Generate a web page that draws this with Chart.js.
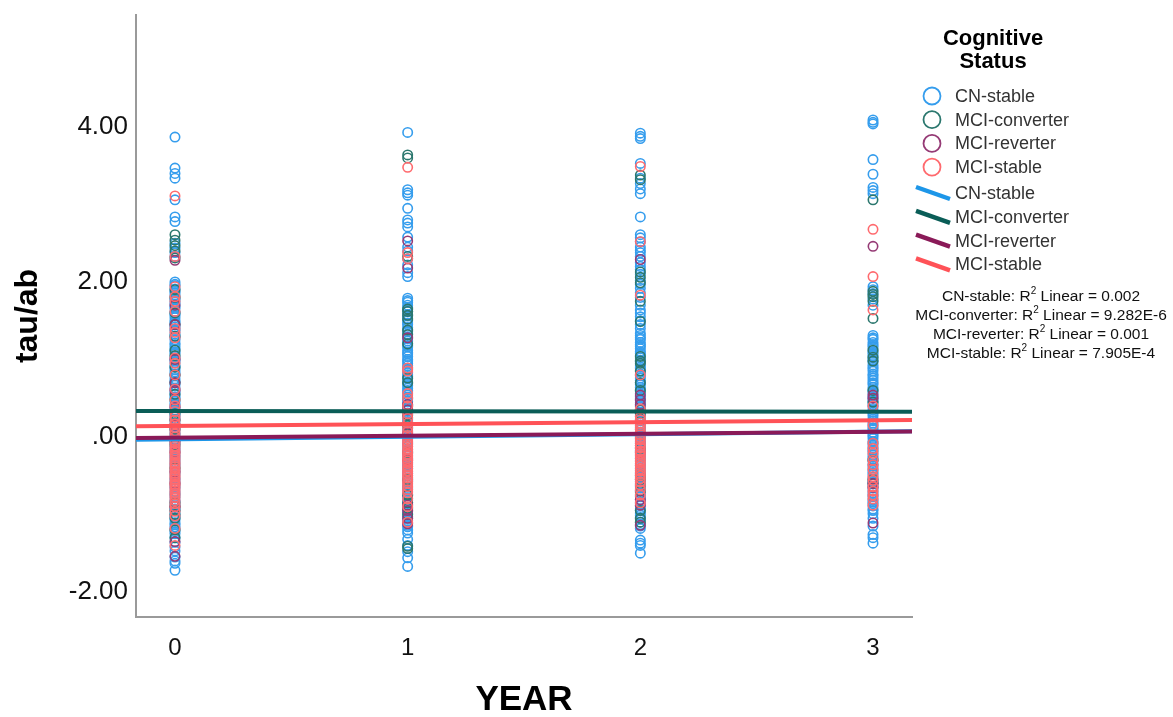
<!DOCTYPE html>
<html>
<head>
<meta charset="utf-8">
<title>tau/ab by YEAR</title>
<script src="https://cdn.jsdelivr.net/npm/chart.js@4/dist/chart.umd.min.js"></script>
<style>
  html, body { margin: 0; padding: 0; background: #fff; }
  #wrap { width: 1173px; height: 717px; }
</style>
</head>
<body>
<div id="wrap"><canvas id="mychart" width="1173" height="717"></canvas></div>
<script>
// values, one list per year (0..3)
const years = [0, 1, 2, 3]
const groups = ['CN-stable', 'MCI-converter', 'MCI-reverter', 'MCI-stable']

const cnStable = [
  [3.87, 3.47, 3.40, 3.34, 3.06, 2.84, 2.78, 2.50, 2.44, 2.38, 2.33,
   2.00, 1.97, 1.95, 1.91, 1.88, 1.86, 1.83, 1.79, 1.77, 1.74, 1.71, 1.68, 1.66, 1.62, 1.59, 1.57, 1.54, 1.50, 1.48, 1.45, 1.42, 1.39, 1.37, 1.33, 1.30, 1.28, 1.25, 1.21, 1.19, 1.16, 1.13, 1.10, 1.08, 1.04, 1.01, 0.99, 0.96, 0.92, 0.90, 0.87, 0.84, 0.81, 0.79, 0.75, 0.72, 0.70, 0.67, 0.63, 0.61, 0.58, 0.55, 0.52, 0.50, 0.46, 0.43, 0.41, 0.38, 0.34, 0.32, 0.29, 0.26, 0.23, 0.21, 0.17, 0.14, 0.12, 0.09, 0.05, 0.03, 0.00,
   -0.03, -0.06, -0.08, -0.12, -0.15, -0.17, -0.20, -0.24, -0.26, -0.29, -0.32, -0.35, -0.37, -0.41, -0.44, -0.46, -0.49, -0.53, -0.55, -0.58, -0.61, -0.64, -0.66, -0.70, -0.73, -0.75, -0.78, -0.82, -0.84, -0.87, -0.90, -0.93, -0.95, -0.99, -1.02, -1.04, -1.07, -1.11, -1.13, -1.16, -1.19, -1.22, -1.25,
   -1.30, -1.36, -1.42, -1.47, -1.55, -1.60, -1.63, -1.72],
  [3.93, 3.19, 3.15, 3.12, 2.95, 2.80, 2.76, 2.71, 2.58, 2.45, 2.40, 2.30, 2.22, 2.12, 2.07,
   1.79, 1.76, 1.74, 1.70, 1.67, 1.65, 1.62, 1.58, 1.56, 1.53, 1.50, 1.47, 1.45, 1.41, 1.38, 1.36, 1.33, 1.29, 1.27, 1.24, 1.21, 1.18, 1.16, 1.12, 1.09, 1.07, 1.04, 1.00, 0.98, 0.95, 0.92, 0.89, 0.87, 0.83, 0.80, 0.78, 0.75, 0.71, 0.69, 0.66, 0.63, 0.60, 0.58, 0.54, 0.51, 0.49, 0.46, 0.42, 0.40, 0.37, 0.34, 0.31, 0.29, 0.25, 0.22, 0.20, 0.17, 0.13, 0.11, 0.08, 0.05, 0.02, 0.00,
   -0.04, -0.07, -0.09, -0.12, -0.16, -0.18, -0.21, -0.24, -0.27, -0.29, -0.33, -0.36, -0.38, -0.41, -0.45, -0.47, -0.50, -0.53, -0.56, -0.58, -0.62, -0.65, -0.67, -0.70, -0.74, -0.76, -0.79, -0.82, -0.85, -0.87, -0.91, -0.94, -0.96, -0.99, -1.03, -1.05, -1.08, -1.11, -1.14, -1.16, -1.20, -1.24,
   -1.32, -1.40, -1.48, -1.56, -1.67],
  [3.92, 3.88, 3.85, 3.53, 3.34, 3.27, 3.20, 3.14, 2.84, 2.61, 2.57, 2.52, 2.45, 2.41, 2.38, 2.33, 2.25, 2.20, 2.16, 2.10, 2.02, 1.97, 1.92, 1.86, 1.80, 1.70, 1.64, 1.60, 1.55, 1.50, 1.45, 1.40,
   1.34, 1.31, 1.28, 1.26, 1.22, 1.19, 1.17, 1.14, 1.10, 1.08, 1.05, 1.02, 0.99, 0.97, 0.93, 0.90, 0.88, 0.85, 0.81, 0.79, 0.76, 0.73, 0.70, 0.68, 0.64, 0.61, 0.59, 0.56, 0.52, 0.50, 0.47, 0.44, 0.41, 0.39, 0.35, 0.32, 0.30, 0.27, 0.23, 0.21, 0.18, 0.15, 0.12, 0.10, 0.06, 0.03, 0.01,
   -0.02, -0.06, -0.08, -0.11, -0.14, -0.17, -0.19, -0.23, -0.26, -0.28, -0.31, -0.35, -0.37, -0.40, -0.43, -0.46, -0.48, -0.52, -0.55, -0.57, -0.60, -0.64, -0.66, -0.69, -0.72, -0.75, -0.77, -0.81, -0.84, -0.86, -0.89, -0.93, -0.95, -0.98, -1.01, -1.04, -1.06, -1.10, -1.13, -1.15, -1.18,
   -1.33, -1.37, -1.40, -1.50],
  [4.09, 4.06, 4.04, 3.58, 3.39, 3.22, 3.18, 3.14, 1.94, 1.90, 1.85, 1.78, 1.70,
   1.31, 1.28, 1.26, 1.22, 1.19, 1.17, 1.14, 1.10, 1.08, 1.05, 1.02, 0.99, 0.97, 0.93, 0.90, 0.88, 0.85, 0.81, 0.79, 0.76, 0.73, 0.70, 0.68, 0.64, 0.61, 0.59, 0.56, 0.52, 0.50, 0.47, 0.44, 0.41, 0.39, 0.35, 0.32, 0.30, 0.27, 0.23, 0.21, 0.18, 0.15, 0.12, 0.10, 0.06, 0.03, 0.01,
   -0.02, -0.06, -0.08, -0.11, -0.14, -0.17, -0.19, -0.23, -0.26, -0.28, -0.31, -0.35, -0.37, -0.40, -0.43, -0.46, -0.48, -0.52, -0.55, -0.57, -0.60, -0.64, -0.66, -0.69, -0.72, -0.75, -0.77, -0.81, -0.84, -0.86, -0.89, -0.93, -0.95, -0.99,
   -1.05, -1.15, -1.26, -1.30, -1.37]
]
const mciConverter = [
  [2.61, 2.54, 2.47, 2.40, 2.31, 1.90, 1.80, 1.60, 1.45, 1.30, 1.12, 1.05, 0.90, 0.80, 0.70, 0.55, 0.48, 0.30, 0.22, 0.10, -0.10, -0.40, -0.85, -0.90, -0.95, -1.00, -1.05, -1.20, -1.30],
  [3.64, 3.60, 2.33, 1.65, 1.62, 1.57, 1.52, 1.38, 1.32, 1.20, 0.76, 0.70, 0.40, 0.28, 0.15, -0.20, -0.55, -0.75, -0.85, -0.92, -1.00, -1.41, -1.44],
  [3.38, 3.32, 2.13, 2.06, 1.99, 1.75, 1.49, 1.04, 0.98, 0.95, 0.85, 0.70, 0.60, 0.35, 0.30, -0.15, -0.50, -0.55, -0.62, -0.70, -0.95, -1.05, -1.10],
  [3.06, 1.88, 1.84, 1.81, 1.75, 1.53, 1.12, 1.03, 0.98, 0.60, 0.45, -0.30, -0.55, -0.60]
]
const mciReverter = [
  [2.28, 1.70, 1.45, 1.00, 0.70, 0.60, 0.38, 0.15, -0.05, -0.20, -0.45, -0.60, -0.90, -1.35, -1.54],
  [2.53, 2.18, 1.28, 0.42, 0.35, 0.05, -0.30, -0.88, -0.95, -1.05, -1.12],
  [2.29, 0.54, 0.48, 0.42, -0.20, -0.81, -0.88, -1.14],
  [2.46, 0.54, 0.50, -0.60, -0.65, -1.11]
]
const mciStable = [
  [3.11, 2.33, 1.94, 1.81, 1.75, 1.62, 1.40, 1.35, 1.28, 1.02, 0.95, 0.80, 0.62, 0.48, 0.40, 0.33, 0.26, 0.22, 0.17, 0.12, 0.08, 0.04, 0.00, -0.05, -0.08, -0.12, -0.15, -0.18, -0.21, -0.24, -0.27, -0.30, -0.33, -0.35, -0.38, -0.41, -0.44, -0.47, -0.50, -0.52, -0.55, -0.58, -0.61, -0.63, -0.66, -0.69, -0.72, -0.75, -0.78, -0.82, -0.86, -0.90, -0.96, -1.02, -1.18, -1.40],
  [3.48, 2.38, 2.30, 0.89, 0.85, 0.56, 0.50, 0.40, 0.30, 0.24, 0.18, 0.12, 0.07, 0.02, -0.02, -0.06, -0.09, -0.12, -0.16, -0.19, -0.22, -0.25, -0.28, -0.31, -0.34, -0.38, -0.41, -0.44, -0.47, -0.50, -0.53, -0.57, -0.60, -0.64, -0.68, -0.72, -0.80, -0.90, -1.10],
  [3.49, 2.52, 1.83, 0.80, 0.36, 0.26, 0.22, 0.18, 0.14, 0.10, 0.06, 0.03, -0.01, -0.04, -0.08, -0.11, -0.14, -0.18, -0.21, -0.24, -0.28, -0.31, -0.34, -0.37, -0.41, -0.44, -0.47, -0.50, -0.54, -0.58, -0.62, -0.68, -0.75, -0.85],
  [2.68, 2.07, 1.64, 0.40, 0.15, -0.08, -0.15, -0.21, -0.30, -0.36, -0.42, -0.51, -0.56, -0.64, -0.70, -0.75, -0.80, -0.88]
]

// linear fit per group: intercept and slope
const fitIntercept = [-0.03, 0.334, -0.01, 0.144]
const fitSlope = [0.033, -0.003, 0.025, 0.024]
const r2Labels = ['0.002', '9.282E-6', '0.001', '7.905E-4']

const yTicks = [-2, 0, 2, 4]
const yTickLabels = ['-2.00', '.00', '2.00', '4.00']
const xTicks = [0, 1, 2, 3]
const xMin = -0.1676, xMax = 3.1676
const yMin = -2.323, yMax = 5.445

const pointColors = ['#359ded', '#2b776e', '#953a75', '#ff6a6e']
const lineColors = ['#1d96e8', '#0a5d57', '#8a1a58', '#ff5257']
const FONT = 'Arial, "Liberation Sans", sans-serif'

const series = [cnStable, mciConverter, mciReverter, mciStable]

const datasets = []
series.forEach((s, g) => {
  const pts = []
  s.forEach((vals, i) => vals.forEach(v => pts.push({ x: years[i], y: v })))
  datasets.push({
    label: groups[g],
    data: pts,
    pointRadius: 4.7,
    pointBorderWidth: 1.6,
    pointBackgroundColor: 'rgba(0,0,0,0)',
    pointBorderColor: pointColors[g],
    showLine: false,
    order: 8 - g
  })
})
// draw order for lines: blue under maroon, red on top
const lineOrder = [4, 3, 2, 1]
groups.forEach((name, g) => {
  datasets.push({
    label: name + ' fit',
    data: [xMin, xMax].map(x => ({ x: x, y: fitIntercept[g] + fitSlope[g] * x })),
    showLine: true,
    borderColor: lineColors[g],
    borderWidth: 4,
    pointRadius: 0,
    order: lineOrder[g]
  })
})

const legendPlugin = {
  id: 'spssLegend',
  afterDraw(chart) {
    const ctx = chart.ctx
    ctx.save()
    ctx.fillStyle = '#000'
    ctx.textAlign = 'center'
    ctx.textBaseline = 'middle'
    ctx.font = 'bold 22px ' + FONT
    ctx.fillText('Cognitive', 993, 39)
    ctx.fillText('Status', 993, 62)

    ctx.textAlign = 'left'
    ctx.font = '18px ' + FONT
    groups.forEach((name, g) => {
      const y = 96 + g * 23.7
      ctx.beginPath()
      ctx.arc(932, y, 8.5, 0, Math.PI * 2)
      ctx.lineWidth = 1.8
      ctx.strokeStyle = pointColors[g]
      ctx.stroke()
      ctx.fillStyle = '#333'
      ctx.fillText(name, 955, y + 1)
    })
    groups.forEach((name, g) => {
      const y = 193 + g * 23.8
      ctx.beginPath()
      ctx.moveTo(916, y - 6)
      ctx.lineTo(950, y + 6)
      ctx.lineWidth = 4.5
      ctx.strokeStyle = lineColors[g]
      ctx.stroke()
      ctx.fillStyle = '#333'
      ctx.fillText(name, 955, y + 1)
    })

    // R2 notes
    const big = '15.5px ' + FONT, small = '10px ' + FONT
    groups.forEach((name, g) => {
      const y = 297 + g * 19
      const a = name + ': R', b = '2', c = ' Linear = ' + r2Labels[g]
      ctx.font = big
      const wa = ctx.measureText(a).width, wc = ctx.measureText(c).width
      ctx.font = small
      const wb = ctx.measureText(b).width
      let x = 1041 - (wa + wb + wc) / 2
      ctx.fillStyle = '#111'
      ctx.font = big
      ctx.fillText(a, x, y)
      ctx.font = small
      ctx.fillText(b, x + wa, y - 6)
      ctx.font = big
      ctx.fillText(c, x + wa + wb, y)
    })
    ctx.restore()
  }
}

const ctx = document.getElementById('mychart').getContext('2d')
const chart = new Chart(ctx, {
  type: 'scatter',
  data: { datasets: datasets },
  options: {
    responsive: false,
    animation: false,
    devicePixelRatio: 1,
    layout: { padding: { top: 15, right: 261, left: 0, bottom: 0 } },
    plugins: { legend: { display: false }, tooltip: { enabled: false } },
    scales: {
      x: {
        type: 'linear',
        min: xMin,
        max: xMax,
        afterBuildTicks: s => { s.ticks = xTicks.map(v => ({ value: v })) },
        afterFit: s => { s.height = 100; s.paddingLeft = 0; s.paddingRight = 0 },
        grid: { display: false, drawTicks: false },
        border: { display: true, color: '#9a9a9a', width: 2 },
        ticks: { color: '#111', font: { family: FONT, size: 24 }, padding: 17, callback: v => String(v) },
        title: { display: true, text: 'YEAR', color: '#000', font: { family: FONT, size: 35, weight: 'bold', lineHeight: 1.2 }, padding: { top: 0, bottom: -4 } }
      },
      y: {
        type: 'linear',
        min: yMin,
        max: yMax,
        afterBuildTicks: s => { s.ticks = yTicks.map(v => ({ value: v })) },
        afterFit: s => { s.width = 136; s.paddingTop = 0; s.paddingBottom = 0 },
        grid: { display: false, drawTicks: false },
        border: { display: true, color: '#9a9a9a', width: 2 },
        ticks: { color: '#111', font: { family: FONT, size: 26 }, padding: 8, callback: v => yTickLabels[yTicks.indexOf(v)] },
        title: { display: true, text: 'tau/ab', color: '#000', font: { family: FONT, size: 32, weight: 'bold', lineHeight: 1.2 }, padding: { top: 9, bottom: 0 } }
      }
    }
  },
  plugins: [legendPlugin]
})
</script>
</body>
</html>
